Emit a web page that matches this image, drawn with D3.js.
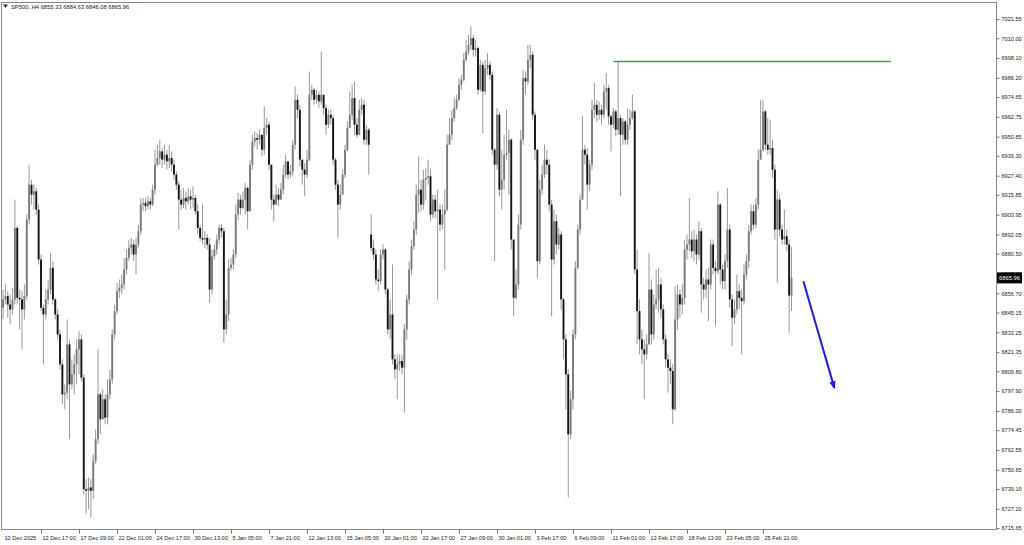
<!DOCTYPE html>
<html>
<head>
<meta charset="utf-8">
<script src="https://cdn.jsdelivr.net/npm/d3@7/dist/d3.min.js"></script>
<style>
  html, body { margin: 0; padding: 0; background: #fff; }
  svg { display: block; font-family: "Liberation Sans", Arial, sans-serif; }
  .axis text { font-size: 5.6px; fill: #222; }
  .axis line { stroke: #777; }
</style>
</head>
<body>
<svg id="chart" width="1024" height="545"></svg>
<script>
// SP500 H4 bars, 10 Dec 2025 .. 26 Feb 2026 (prices)
const symbol = 'SP500.,H4';
const firstOpen = 6848;
const gapOpens = [[155, 6892]];   // bar index, open price after the weekend gap

const closes = [
  6853,6855,6850,6847,6853,6896,6854,6853,6847,6855,
  6901,6922,6916,6918,6907,6877,6848,6844,6853,6859,
  6872,6853,6844,6832,6814,6796,6797,6826,6802,6808,
  6814,6823,6829,6806,6739,6738,6740,6738,6756,6769,
  6796,6781,6793,6782,6796,6805,6832,6846,6858,6860,
  6862,6871,6878,6884,6886,6880,6886,6894,6910,6911,
  6909,6912,6910,6919,6934,6938,6942,6937,6940,6936,
  6938,6934,6928,6922,6913,6910,6914,6912,6915,6913,
  6914,6906,6896,6890,6889,6890,6886,6859,6879,6883,
  6889,6896,6894,6835,6844,6872,6874,6880,6904,6913,
  6908,6913,6920,6906,6934,6948,6950,6949,6952,6943,
  6956,6958,6934,6913,6910,6916,6913,6919,6928,6936,
  6928,6930,6946,6973,6967,6937,6931,6928,6937,6976,
  6979,6973,6976,6972,6976,6968,6958,6964,6962,6937,
  6922,6910,6916,6928,6943,6956,6964,6974,6958,6952,
  6967,6970,6949,6955,6946,6884,6880,6865,6864,6880,
  6883,6859,6835,6844,6817,6811,6814,6816,6812,6835,
  6853,6871,6885,6895,6916,6919,6910,6925,6926,6927,
  6904,6913,6906,6907,6898,6904,6907,6946,6952,6962,
  6968,6973,6982,6985,6997,7002,7006,7010,7003,7004,
  6979,6994,6978,6992,6994,6988,6943,6934,6964,6919,
  6925,6940,6941,6949,6889,6854,6862,6898,6949,6986,
  6984,6997,7000,6964,6943,6876,6919,6928,6937,6934,
  6910,6877,6900,6886,6892,6853,6829,6808,6772,6793,
  6832,6872,6895,6913,6943,6940,6922,6934,6967,6970,
  6964,6967,6964,6978,6980,6963,6958,6966,6955,6962,
  6952,6960,6949,6958,6962,6966,6871,6846,6829,6823,
  6820,6826,6859,6832,6850,6853,6862,6847,6829,6817,
  6812,6810,6787,6841,6856,6850,6854,6883,6886,6889,
  6882,6889,6880,6894,6862,6859,6865,6862,6886,6872,
  6870,6910,6871,6864,6876,6895,6853,6842,6847,6858,
  6854,6852,6868,6876,6894,6906,6898,6910,6937,6943,
  6966,6946,6943,6944,6931,6895,6913,6895,6889,6891,
  6886,6855.33,6865.96
];

const highs = [
  6859,6862,6858,6856,6860,6913,6897,6859,6858,6862,
  6904,6934,6925,6922,6920,6910,6880,6850,6859,6865,
  6881,6876,6854,6847,6835,6817,6802,6841,6829,6817,
  6820,6829,6834,6832,6808,6745,6746,6745,6760,6775,
  6823,6797,6799,6796,6805,6811,6835,6850,6863,6865,
  6868,6878,6883,6889,6890,6889,6890,6898,6914,6914,
  6914,6915,6914,6922,6943,6946,6949,6944,6946,6943,
  6946,6942,6937,6930,6924,6919,6920,6918,6920,6919,
  6921,6916,6910,6898,6910,6894,6892,6890,6883,6886,
  6892,6898,6898,6896,6853,6877,6878,6883,6910,6917,
  6916,6918,6923,6921,6937,6952,6954,6953,6955,6952,
  6969,6962,6960,6934,6916,6922,6920,6923,6934,6940,
  6934,6934,6949,6981,6976,6970,6937,6935,6943,6990,
  6982,6980,6979,6978,7002,6976,6970,6967,6967,6964,
  6938,6925,6922,6931,6946,6960,6978,6982,6984,6962,
  6973,6974,6973,6958,6956,6904,6889,6883,6871,6883,
  6886,6884,6860,6853,6874,6820,6820,6820,6820,6838,
  6856,6876,6889,6900,6922,6939,6925,6931,6932,6937,
  6931,6916,6916,6919,6910,6910,6919,6952,6962,6967,
  6974,6976,6986,6988,7001,7009,7012,7017,7012,7009,
  7005,6997,6996,6997,7001,6996,6990,6944,6968,6966,
  6943,6952,6967,6955,6950,6889,6871,6904,6955,6991,
  6990,7006,7006,7002,6966,6943,6925,6934,6946,6943,
  6937,6913,6907,6904,6896,6894,6854,6832,6811,6798,
  6835,6876,6898,6916,6963,6946,6944,6937,6973,6983,
  6973,6972,6970,6982,6989,6982,6964,6968,6967,6996,
  6964,6962,6961,6968,6967,6976,6967,6883,6853,6835,
  6829,6832,6881,6865,6856,6871,6872,6866,6850,6832,
  6820,6817,6814,6861,6862,6859,6862,6889,6892,6914,
  6894,6895,6892,6900,6896,6866,6871,6872,6889,6889,
  6876,6918,6911,6874,6880,6920,6898,6856,6853,6868,
  6862,6859,6874,6880,6898,6910,6910,6914,6943,6973,
  6973,6967,6962,6961,6949,6934,6919,6916,6898,6907,
  6895,6889,6884.63
];

const lows = [
  6841,6850,6842,6838,6844,6850,6850,6835,6823,6841,
  6853,6898,6910,6907,6904,6874,6846,6814,6841,6850,
  6856,6850,6841,6829,6811,6790,6787,6793,6769,6799,
  6796,6802,6808,6804,6736,6724,6727,6722,6733,6754,
  6766,6772,6781,6778,6778,6793,6802,6829,6844,6854,
  6856,6859,6868,6876,6880,6876,6868,6884,6892,6906,
  6906,6907,6907,6909,6916,6933,6934,6932,6934,6931,
  6932,6930,6925,6919,6895,6907,6908,6907,6910,6907,
  6908,6904,6892,6888,6886,6884,6883,6851,6856,6877,
  6880,6886,6890,6827,6832,6840,6870,6871,6878,6901,
  6904,6907,6904,6895,6906,6931,6945,6943,6946,6939,
  6940,6952,6931,6907,6900,6910,6909,6913,6916,6926,
  6925,6926,6927,6943,6962,6933,6922,6915,6926,6936,
  6973,6970,6971,6968,6970,6964,6952,6956,6958,6934,
  6919,6890,6907,6916,6926,6942,6956,6961,6952,6950,
  6952,6964,6946,6946,6928,6882,6877,6862,6858,6862,
  6877,6856,6832,6829,6814,6805,6793,6810,6808,6785,
  6829,6850,6868,6883,6892,6905,6906,6907,6913,6922,
  6900,6902,6902,6853,6894,6895,6871,6906,6946,6949,
  6960,6967,6972,6979,6984,6996,7000,7003,6999,6999,
  6976,6978,6953,6976,6988,6985,6940,6876,6931,6915,
  6907,6919,6937,6916,6883,6843,6853,6859,6895,6946,
  6976,6982,6992,6961,6937,6866,6874,6916,6926,6928,
  6906,6843,6874,6880,6883,6847,6817,6787,6734,6769,
  6787,6829,6871,6892,6913,6934,6907,6918,6931,6962,
  6960,6961,6958,6962,6967,6958,6942,6956,6951,6952,
  6915,6946,6946,6946,6955,6961,6868,6826,6820,6814,
  6793,6817,6826,6826,6829,6847,6845,6842,6826,6812,
  6797,6802,6778,6786,6835,6842,6844,6850,6877,6882,
  6878,6876,6874,6877,6845,6853,6854,6840,6859,6868,
  6837,6868,6862,6859,6859,6872,6848,6825,6838,6844,
  6847,6820,6850,6865,6872,6892,6895,6896,6907,6937,
  6942,6943,6940,6940,6926,6889,6863,6891,6886,6886,
  6882,6833,6846.08
];

const xLabels = [
  '10 Dec 2025','12 Dec 17:00','17 Dec 09:00','22 Dec 01:00','24 Dec 17:00',
  '30 Dec 13:00','5 Jan 05:00','7 Jan 21:00','12 Jan 13:00','15 Jan 05:00',
  '20 Jan 01:00','22 Jan 17:00','27 Jan 09:00','30 Jan 01:00','3 Feb 17:00',
  '6 Feb 09:00','11 Feb 01:00','13 Feb 17:00','18 Feb 13:00','23 Feb 05:00',
  '25 Feb 21:00'
];
const barsPerLabel = 16;

const yTicks = [
  7021.55,7010.00,6998.10,6986.20,6974.65,6962.75,6950.85,6939.30,6927.40,
  6915.85,6903.95,6892.05,6880.50,6868.60,6856.70,6845.15,6833.25,6821.35,
  6809.80,6797.90,6786.00,6774.45,6762.55,6750.65,6739.10,6727.20,6715.65
];

// drawn objects: resistance line and projected move (bar index, price)
const resistance = { from: 257, to: 374, price: 6996 };
const arrowMove = { from: [337, 6864], to: [350, 6800] };

// ── build bars ─────────────────────────────────────────────────────────
const gapMap = new Map(gapOpens);
const bars = closes.map((c, i) => ({
  i,
  o: i === 0 ? firstOpen : (gapMap.has(i) ? gapMap.get(i) : closes[i - 1]),
  h: highs[i], l: lows[i], c
}));
const last = bars[bars.length - 1];

// ── layout ─────────────────────────────────────────────────────────────
const plot = { left: 1, top: 2, right: 996, bottom: 529 };
const svg = d3.select('#chart');

const x = d3.scaleLinear().domain([0, bars.length - 1]).range([3, 791.5]);
const y = d3.scaleLinear().domain([6715.65, 7021.55]).range([528, 19]);

svg.append('rect').attr('width', 1024).attr('height', 545).attr('fill', '#fff');

// frame
svg.append('rect')
  .attr('x', plot.left + 0.5).attr('y', plot.top + 0.5)
  .attr('width', plot.right - plot.left).attr('height', plot.bottom - plot.top)
  .attr('fill', 'none').attr('stroke', '#888').attr('stroke-width', 1);

// candles
const g = svg.append('g');
g.selectAll('line.wick').data(bars).join('line')
  .attr('class', 'wick')
  .attr('x1', d => x(d.i)).attr('x2', d => x(d.i))
  .attr('y1', d => y(d.h)).attr('y2', d => y(d.l))
  .attr('stroke', '#8c8c8c').attr('stroke-width', 0.9);

const bw = 1.9;
g.selectAll('rect.body').data(bars).join('rect')
  .attr('class', 'body')
  .attr('x', d => x(d.i) - bw / 2)
  .attr('y', d => y(Math.max(d.o, d.c)))
  .attr('width', bw)
  .attr('height', d => Math.max(0.8, Math.abs(y(d.o) - y(d.c))))
  .attr('fill', d => d.c >= d.o ? '#7a7a7a' : '#141414');

// resistance line
svg.append('line')
  .attr('x1', x(resistance.from)).attr('x2', x(resistance.to))
  .attr('y1', y(resistance.price)).attr('y2', y(resistance.price))
  .attr('stroke', '#3f9f3f').attr('stroke-width', 1.6);

// arrow
svg.append('defs').append('marker')
  .attr('id', 'ah').attr('viewBox', '0 0 10 10')
  .attr('refX', 8).attr('refY', 5)
  .attr('markerWidth', 4).attr('markerHeight', 4)
  .attr('orient', 'auto')
  .append('path').attr('d', 'M0,1 L10,5 L0,9 Z').attr('fill', '#1a1aff');

svg.append('line')
  .attr('x1', x(arrowMove.from[0])).attr('y1', y(arrowMove.from[1]))
  .attr('x2', x(arrowMove.to[0])).attr('y2', y(arrowMove.to[1]))
  .attr('stroke', '#1a1aff').attr('stroke-width', 2)
  .attr('marker-end', 'url(#ah)');

// right price axis
const yAxis = svg.append('g').attr('class', 'axis')
  .attr('transform', `translate(${plot.right + 0.5},0)`)
  .call(d3.axisRight(y).tickValues(yTicks).tickFormat(d3.format('.2f')).tickSize(3).tickPadding(2));
yAxis.select('.domain').remove();

// bottom time axis
const xTickIdx = xLabels.map((_, k) => k * barsPerLabel);
const xAxis = svg.append('g').attr('class', 'axis')
  .attr('transform', `translate(0,${plot.bottom + 0.5})`)
  .call(d3.axisBottom(x).tickValues(xTickIdx).tickFormat((d, k) => xLabels[k]).tickSize(4).tickPadding(3));
xAxis.select('.domain').remove();
xAxis.selectAll('text').attr('text-anchor', 'start').attr('dx', 1);
xAxis.selectAll('.tick').filter((d, k) => k === 0).select('line').remove();

// current price tag
const py = y(last.c);
svg.append('rect')
  .attr('x', plot.right + 1).attr('y', py - 5.5)
  .attr('width', 25).attr('height', 11).attr('fill', '#000');
svg.append('text')
  .attr('x', plot.right + 3).attr('y', py + 2)
  .attr('font-size', 5.8).attr('fill', '#fff')
  .text(last.c.toFixed(2));

// header
svg.append('path').attr('d', 'M3,4.5 L8,4.5 L5.5,8 Z').attr('fill', '#333');
svg.append('text')
  .attr('x', 11).attr('y', 9)
  .attr('font-size', 5.8).attr('fill', '#222')
  .text(`${symbol} ${last.o.toFixed(2)} ${last.h.toFixed(2)} ${last.l.toFixed(2)} ${last.c.toFixed(2)}`);
</script>
</body>
</html>
